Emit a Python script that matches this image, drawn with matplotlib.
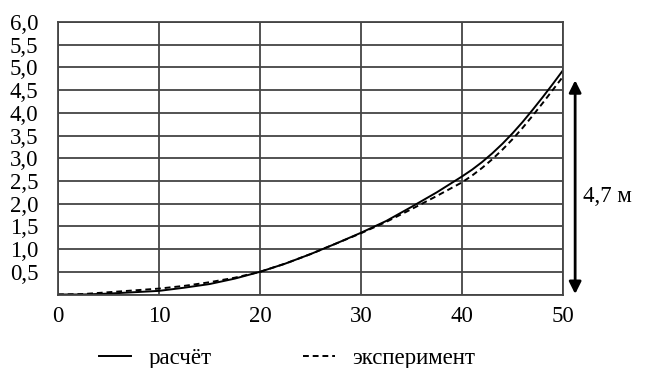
import matplotlib
matplotlib.use("Agg")
import matplotlib.pyplot as plt

plt.rcParams['font.family'] = ['Liberation Serif', 'DejaVu Serif']

# Distance along the span and deflection values
x_vals = [0, 2.5, 5, 7.5, 10, 12.5, 15, 17.5, 20, 22.5, 25, 27.5, 30,
          32.5, 35, 37.5, 40, 41, 42, 43, 44, 45, 46, 47, 48, 49, 50]
calc = [0, 0.0, 0.02, 0.05, 0.08, 0.15, 0.23, 0.35, 0.5, 0.68, 0.89, 1.12,
        1.36, 1.62, 1.93, 2.25, 2.6, 2.75, 2.92, 3.11, 3.32, 3.55, 3.8,
        4.07, 4.35, 4.64, 4.94]
expt = [0, 0.01, 0.05, 0.09, 0.13, 0.19, 0.27, 0.37, 0.5, 0.68, 0.89, 1.12,
        1.35, 1.6, 1.88, 2.17, 2.47, 2.62, 2.79, 2.98, 3.19, 3.42, 3.67,
        3.94, 4.22, 4.51, 4.8]

x_ticks = [0, 10, 20, 30, 40, 50]
y_ticks = [0.5, 1.0, 1.5, 2.0, 2.5, 3.0, 3.5, 4.0, 4.5, 5.0, 5.5, 6.0]
y_labels = ["0,5", "1,0", "1,5", "2,0", "2,5", "3,0", "3,5", "4,0", "4,5",
            "5,0", "5,5", "6,0"]
span_top, span_bottom = 4.78, -0.05
span_label = "4,7 м"

grid_col = "#444444"
fs = 16.5

fig = plt.figure(figsize=(6.45, 3.68), dpi=100)
ax = fig.add_axes([0.0899, 0.1997, 0.783, 0.7403])

ax.plot(x_vals, calc, color="black", lw=1.4, label="расчёт")
ax.plot(x_vals, expt, color="black", lw=1.4, dashes=(3, 2),
        label="эксперимент")

ax.set_xlim(0, 50)
ax.set_ylim(0, 6.0)
ax.set_xticks(x_ticks)
ax.set_xticklabels([str(t) for t in x_ticks])
ax.set_yticks([0] + y_ticks)
ax.set_yticklabels([""] + y_labels)
ax.tick_params(length=0, labelsize=fs, colors="black")
ax.tick_params(axis="y", pad=14)
ax.tick_params(axis="x", pad=8)
ax.grid(True, color=grid_col, lw=1.3)
ax.set_axisbelow(True)
for s in ax.spines.values():
    s.set_color(grid_col)
    s.set_linewidth(1.3)

# Double-headed arrow marking the total deflection
ax.annotate("", xy=(51.2, span_top), xytext=(51.2, span_bottom),
            arrowprops=dict(arrowstyle="<|-|>", color="black", lw=2,
                            mutation_scale=18),
            annotation_clip=False)
ax.text(52.0, 2.15, span_label, fontsize=fs, va="center", ha="left",
        clip_on=False)

fig.legend(loc="center", bbox_to_anchor=(0.445, 0.027), ncol=2,
           frameon=False, fontsize=fs, handlelength=1.4,
           columnspacing=4.0, handletextpad=0.75)

fig.savefig("out.png", dpi=100)
